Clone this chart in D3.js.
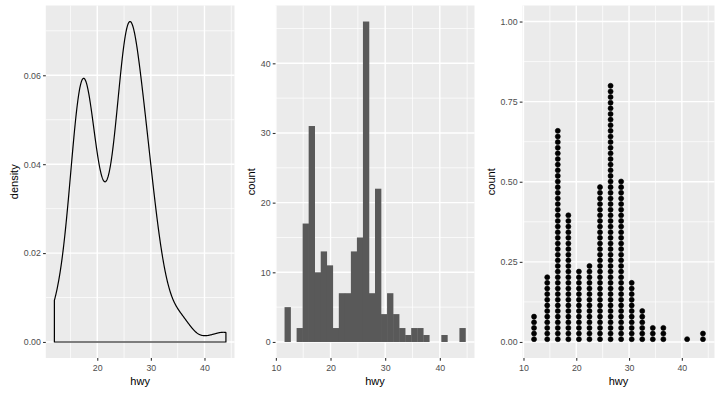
<!DOCTYPE html>
<html><head><meta charset="utf-8">
<script src="https://cdn.jsdelivr.net/npm/d3@7"></script>
<style>body{margin:0;background:#fff}svg{display:block}</style>
</head><body>
<script>
// mpg$hwy frequency table
const hwyValues = [12,14,15,16,17,18,19,20,21,22,23,24,25,26,27,28,29,30,31,32,33,34,35,36,37,41,44];
const hwyCounts = [ 5, 2,10, 7,31,10,13,11, 2, 7, 7,13,15,32,14, 7,22, 4, 7, 4, 2, 1, 2, 2, 1, 1, 2];
const densityTicks = [0, 0.02, 0.04, 0.06];
const countTicks = [0, 10, 20, 30, 40];
const dotTicks = [0, 0.25, 0.5, 0.75, 1];
const xTicks = [10, 20, 30, 40];
const nBins = 30;

const hwy = [];
hwyValues.forEach((v, i) => { for (let k = 0; k < hwyCounts[i]; k++) hwy.push(v); });
hwy.sort((a, b) => a - b);
const xmin = d3.min(hwy), xmax = d3.max(hwy);

const W = 720, H = 394;
const svg = d3.select("body").append("svg").attr("width", W).attr("height", H);
const FONT = "'Liberation Sans', Arial, sans-serif";
const TOP = 5.5, BOT = 358;

function expand(lo, hi) { const e = (hi - lo) * 0.05; return [lo - e, hi + e]; }

function panel(L, R, xdom, ydom, yTicks, yFmt, ylab, xMajor) {
  const x = d3.scaleLinear().domain(xdom).range([L, R]);
  const y = d3.scaleLinear().domain(ydom).range([BOT, TOP]);
  const g = svg.append("g");
  g.append("rect").attr("x", L).attr("y", TOP).attr("width", R - L).attr("height", BOT - TOP).attr("fill", "#EBEBEB");
  const xMinor = [], yMinor = [];
  const xs = xMajor[1] - xMajor[0];
  const xAll = [xMajor[0] - xs].concat(xMajor, [xMajor[xMajor.length - 1] + xs]);
  for (let i = 0; i < xAll.length - 1; i++) xMinor.push((xAll[i] + xAll[i + 1]) / 2);
  const yStep = yTicks[1] - yTicks[0];
  const yAll = [yTicks[0] - yStep].concat(yTicks, [yTicks[yTicks.length - 1] + yStep]);
  for (let i = 0; i < yAll.length - 1; i++) yMinor.push((yAll[i] + yAll[i + 1]) / 2);
  const inX = v => v >= xdom[0] && v <= xdom[1];
  const inY = v => v >= ydom[0] && v <= ydom[1];
  g.selectAll(".xmin").data(xMinor.filter(inX)).enter().append("line")
    .attr("x1", d => x(d)).attr("x2", d => x(d)).attr("y1", TOP).attr("y2", BOT)
    .attr("stroke", "#fff").attr("stroke-width", 0.7);
  g.selectAll(".ymin").data(yMinor.filter(inY)).enter().append("line")
    .attr("y1", d => y(d)).attr("y2", d => y(d)).attr("x1", L).attr("x2", R)
    .attr("stroke", "#fff").attr("stroke-width", 0.7);
  g.selectAll(".xmaj").data(xMajor.filter(inX)).enter().append("line")
    .attr("x1", d => x(d)).attr("x2", d => x(d)).attr("y1", TOP).attr("y2", BOT)
    .attr("stroke", "#fff").attr("stroke-width", 1.4);
  g.selectAll(".ymaj").data(yTicks.filter(inY)).enter().append("line")
    .attr("y1", d => y(d)).attr("y2", d => y(d)).attr("x1", L).attr("x2", R)
    .attr("stroke", "#fff").attr("stroke-width", 1.4);
  const ax = d3.axisBottom(x).tickValues(xMajor.filter(inX)).tickSize(2.75).tickPadding(2.2).tickFormat(d3.format("d"));
  const ay = d3.axisLeft(y).tickValues(yTicks).tickSize(2.75).tickPadding(2.2).tickFormat(yFmt);
  const gx = svg.append("g").attr("transform", `translate(0,${BOT})`).call(ax);
  const gy = svg.append("g").attr("transform", `translate(${L},0)`).call(ay);
  [gx, gy].forEach(a => {
    a.select(".domain").remove();
    a.selectAll(".tick line").attr("stroke", "#333333").attr("stroke-width", 1.1);
    a.selectAll(".tick text").attr("fill", "#4D4D4D").attr("font-family", FONT).attr("font-size", "8.8px");
  });
  gx.selectAll(".tick text").attr("dy", null).attr("y", 13.3);
  gy.selectAll(".tick text").attr("dy", "0.33em");
  svg.append("text").attr("x", (L + R) / 2).attr("y", 384.5).attr("text-anchor", "middle")
    .attr("font-family", FONT).attr("font-size", "11px").attr("fill", "#000").text("hwy");
  const ylx = L - 2.75 - 2.2 - d3.max(gy.selectAll(".tick text").nodes(), n => n.getComputedTextLength()) - 2.75 - 3;
  svg.append("text").attr("transform", `translate(${ylx},${(TOP + BOT) / 2}) rotate(-90)`)
    .attr("text-anchor", "middle").attr("font-family", FONT).attr("font-size", "11px").attr("fill", "#000").text(ylab);
  return { x, y, g };
}

// ---- Panel 1: density (gaussian kernel, bw.nrd0) ----
const n = hwy.length;
const sd = d3.deviation(hwy);
const iqr = d3.quantile(hwy, 0.75) - d3.quantile(hwy, 0.25);
const bw = 0.9 * Math.min(sd, iqr / 1.34) * Math.pow(n, -0.2);
const gridN = 512;
const dens = [];
for (let i = 0; i < gridN; i++) {
  const xv = xmin + (xmax - xmin) * i / (gridN - 1);
  let s = 0;
  for (const v of hwy) { const u = (xv - v) / bw; s += Math.exp(-0.5 * u * u); }
  dens.push([xv, s / (n * bw * Math.sqrt(2 * Math.PI))]);
}
const dmax = d3.max(dens, d => d[1]);
const p1 = panel(45.8, 234.5, expand(xmin, xmax), expand(0, dmax), densityTicks, d3.format(".2f"), "density", xTicks);
const poly = [[xmin, 0]].concat(dens, [[xmax, 0]]);
const lineGen = d3.line().x(d => p1.x(d[0])).y(d => p1.y(d[1]));
p1.g.append("path")
  .attr("d", lineGen(poly) + "Z")
  .attr("fill", "none").attr("stroke", "#000").attr("stroke-width", 1.2).attr("stroke-linejoin", "round");

// ---- Panel 2: histogram (bins = 30, ggplot-style breaks, right-closed) ----
const width = (xmax - xmin) / (nBins - 1);
const boundary = width / 2;
const origin = boundary + Math.floor((xmin - boundary) / width) * width;
const breaks = [];
for (let b = origin; b <= xmax + width * (1 - 1e-8); b += width) breaks.push(b);
const bins = [];
for (let i = 0; i < breaks.length - 1; i++) bins.push({ x0: breaks[i], x1: breaks[i + 1], count: 0 });
const fuzz = 1e-7 * width;
hwy.forEach(v => {
  for (let i = 0; i < bins.length; i++) {
    const lo = i === 0 ? bins[i].x0 - fuzz : bins[i].x0 + fuzz;
    if (v >= lo && v <= bins[i].x1 + fuzz) { bins[i].count++; break; }
  }
});
const cmax = d3.max(bins, b => b.count);
const p2 = panel(275.5, 474.5, expand(bins[0].x0, bins[bins.length - 1].x1), expand(0, cmax),
  countTicks, d3.format("d"), "count", xTicks);
p2.g.selectAll(".bar").data(bins).enter().append("rect")
  .attr("x", d => p2.x(d.x0)).attr("width", d => p2.x(d.x1) - p2.x(d.x0) + 0.3)
  .attr("y", d => p2.y(d.count)).attr("height", d => p2.y(0) - p2.y(d.count))
  .attr("fill", "#595959");

// ---- Panel 3: dotplot (dotdensity, binwidth = range/30) ----
const dbw = (xmax - xmin) / 30;
const stacks = [];
let cur = null;
hwy.forEach(v => {
  if (!cur || v >= cur.start + dbw) { cur = { start: v, vals: [] }; stacks.push(cur); }
  cur.vals.push(v);
});
stacks.forEach(s => { s.center = (d3.min(s.vals) + d3.max(s.vals)) / 2; s.count = s.vals.length; });
const p3 = panel(522.5, 714.5, expand(d3.min(stacks, s => s.center) - dbw / 2, d3.max(stacks, s => s.center) + dbw / 2),
  [-0.05, 1.05], dotTicks, d3.format(".2f"), "count", xTicks);
const dia = p3.x(dbw) - p3.x(0);
const dots = [];
stacks.forEach(s => { for (let k = 0; k < s.count; k++) dots.push({ x: s.center, k }); });
p3.g.selectAll(".dot").data(dots).enter().append("circle")
  .attr("cx", d => p3.x(d.x)).attr("cy", d => p3.y(0) - (d.k + 0.5) * dia)
  .attr("r", dia / 2 - 0.3).attr("fill", "#000").attr("stroke", "#000").attr("stroke-width", 0.6);
</script>
</body></html>
